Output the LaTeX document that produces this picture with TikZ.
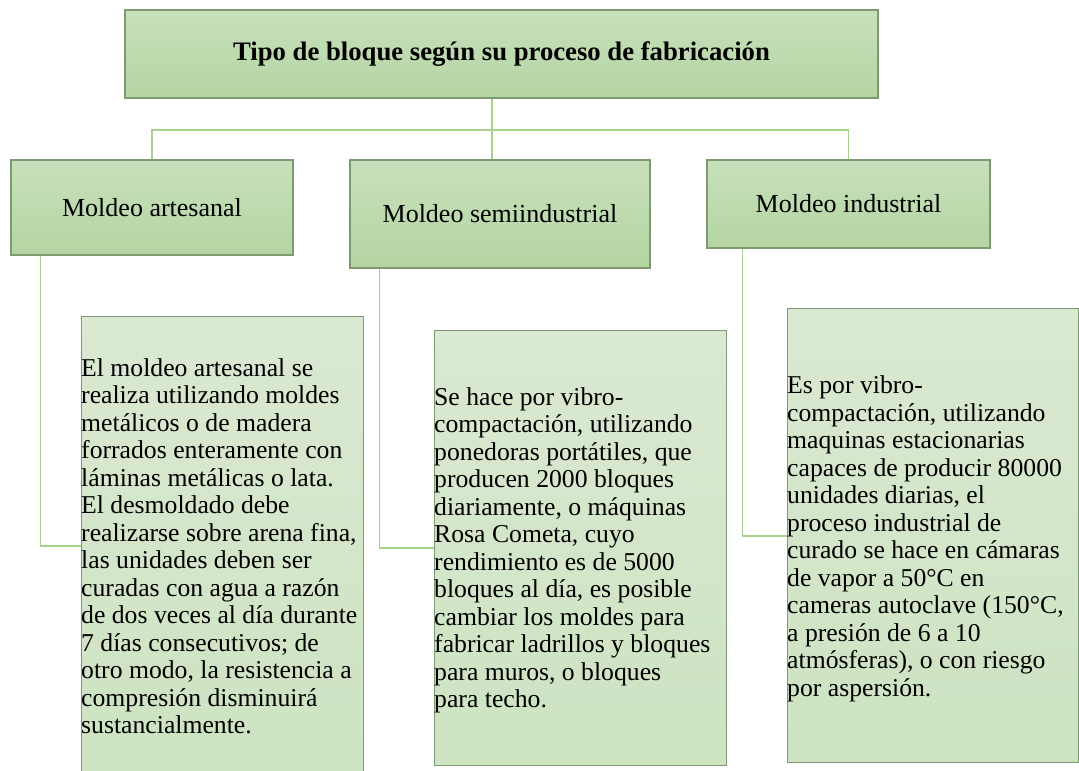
\documentclass[tikz,border=0pt]{standalone}
\usepackage{fontspec}
\setmainfont{Liberation Serif}
\usepackage{xcolor}
\usepackage{tikz}

\definecolor{boxline}{HTML}{7F9A70}
\definecolor{headtop}{HTML}{C8E0BC}
\definecolor{headbot}{HTML}{B4D5A2}
\definecolor{texttop}{HTML}{DAE9D2}
\definecolor{textbot}{HTML}{CDE3C1}
\definecolor{linkgreen}{HTML}{A9D18E}

\begin{document}
\begin{tikzpicture}[x=1pt,y=-1pt,
        box/.style={draw=boxline, line width=1.2pt, top color=headtop, bottom color=headbot,
            inner sep=0pt, font=\fontsize{26}{27.6}\selectfont},
        textbox/.style={draw=boxline, line width=1.2pt, top color=texttop, bottom color=textbot,
            anchor=north west, inner sep=0pt},
        bodytext/.style={anchor=west, inner sep=0pt, align=left, font=\fontsize{25.7}{27.5}\selectfont},
        link/.style={draw=linkgreen, line width=1.8pt}]
    \useasboundingbox (0,0) rectangle (1079,771);

    \node[box, font=\fontsize{26.7}{27.6}\selectfont\bfseries, minimum width=753pt, minimum height=88pt]
        (title) at (501.5,54) {Tipo de bloque según su proceso de fabricación};

    \foreach \name/\x/\y/\w/\h/\lbl in {artesanal/152/207.5/282/95/Moldeo artesanal,
            semi/500/214/300/108/Moldeo semiindustrial, industrial/848.5/204/283/88/Moldeo industrial} {
        \node[box, minimum width=\w pt, minimum height=\h pt] (\name) at (\x,\y) {\lbl};
    }

    % cajas de texto
    \node[textbox, minimum width=282pt, minimum height=459pt] (txtart) at (81,316) {};
    \node[textbox, minimum width=292pt, minimum height=435pt] (txtsemi) at (434,330) {};
    \node[textbox, minimum width=291pt, minimum height=454pt] (txtind) at (787,308) {};

    \node[bodytext] (descart) at ([yshift=0pt]txtart.west) {El moldeo artesanal se\\
        realiza utilizando moldes\\ metálicos o de madera\\ forrados enteramente con\\
        láminas metálicas o lata.\\ El desmoldado debe\\ realizarse sobre arena fina,\\
        las unidades deben ser\\ curadas con agua a razón\\ de dos veces al día durante\\
        7 días consecutivos; de\\ otro modo, la resistencia a\\ compresión disminuirá\\ sustancialmente.};
    \node[bodytext] (descsemi) at ([yshift=-2pt]txtsemi.west) {Se hace por vibro-\\
        compactación, utilizando\\ ponedoras portátiles, que\\ producen 2000 bloques\\
        diariamente, o máquinas\\ Rosa Cometa, cuyo\\ rendimiento es de 5000\\
        bloques al día, es posible\\ cambiar los moldes para\\ fabricar ladrillos y bloques\\
        para muros, o bloques\\ para techo.};
    \node[bodytext] (descind) at ([yshift=-3pt]txtind.west) {Es por vibro-\\
        compactación, utilizando\\ maquinas estacionarias\\ capaces de producir 80000\\
        unidades diarias, el\\ proceso industrial de\\ curado se hace en cámaras\\
        de vapor a 50°C en\\ cameras autoclave (150°C,\\ a presión de 6 a 10\\
        atmósferas), o con riesgo\\ por aspersión.};

    % conectores
    \coordinate (bus) at (492,130);
    \draw[link] (artesanal.north) |- (bus) -| (industrial.north);
    \draw[link] ([xshift=-9.5pt]title.south) -- ([xshift=-9.5pt]title.south |- semi.north);
    \foreach \up/\txt/\dx in {artesanal/txtart/30, semi/txtsemi/30, industrial/txtind/36} {
        \draw[link] ([xshift=\dx pt]\up.south west) |- (\txt.west);
    }
\end{tikzpicture}
\end{document}
